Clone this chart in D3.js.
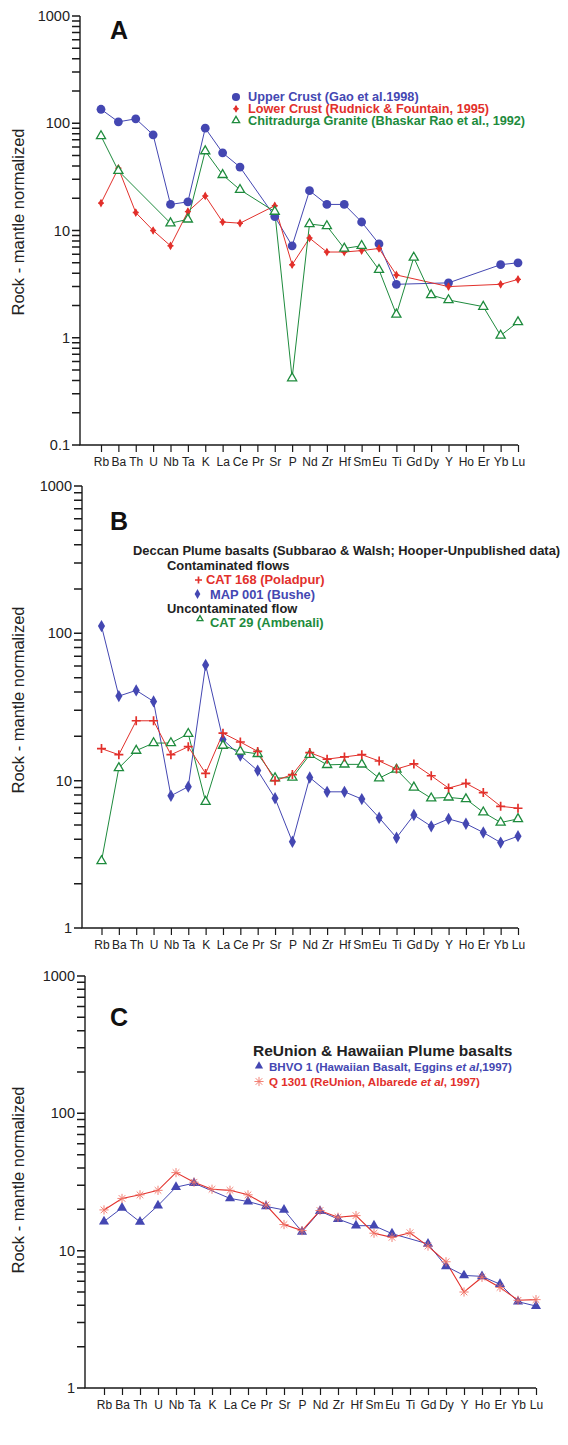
<!DOCTYPE html>
<html>
<head>
<meta charset="utf-8">
<script src="https://cdn.jsdelivr.net/npm/d3@7"></script>
<style>
  body { margin: 0; background: #fff; }
  svg { display: block; }
  text { font-family: "Liberation Sans", Arial, Helvetica, sans-serif; }
</style>
</head>
<body>
<svg id="chart" width="568" height="1445"></svg>
<script>
// Element order of the spider diagrams (mantle-normalized)
const elements = ["Rb","Ba","Th","U","Nb","Ta","K","La","Ce","Pr","Sr","P","Nd","Zr","Hf","Sm","Eu","Ti","Gd","Dy","Y","Ho","Er","Yb","Lu"];

// Panel A: crustal reference compositions
const upperCrust  = [135,103,110,78,17.5,18.5,90,53,39,null,13.5,7.2,23.5,17.5,17.5,12,7.5,3.15,null,null,3.25,null,null,4.8,5.0];
const lowerCrust  = [18,38,14.7,10,7.2,15,21,12,11.7,null,17,4.8,8.5,6.3,6.3,6.5,6.8,3.85,null,null,3.0,null,null,3.15,3.5];
const chitradurga = [76,36,null,null,11.7,12.7,55,33,24,null,15,0.42,11.5,11,6.8,7.2,4.3,1.65,5.6,2.5,2.25,null,1.95,1.05,1.4];

// Panel B: Deccan plume basalts
const cat168 = [16.5,15,25.5,25.5,15,17,11.2,21,18.3,15.8,10,11,15.5,14,14.5,15,13.6,12,13,10.8,8.9,9.6,8.3,6.7,6.5];
const map001 = [112,37.5,41,34.5,7.9,9.1,61,19,14.8,11.7,7.6,3.85,10.5,8.4,8.4,7.5,5.6,4.1,5.85,4.9,5.5,5.1,4.45,3.8,4.2];
const cat29  = [2.85,12.2,16,18,18,20.8,7.2,17.3,15.8,15.2,10.4,10.5,15,12.8,12.9,12.9,10.4,11.9,9,7.6,7.7,7.5,6.1,5.2,5.5];

// Panel C: ReUnion & Hawaiian plume basalts
const bhvo1 = [16.3,20.5,16.2,21.3,29,31,null,24,22.8,21,19.8,13.7,19.4,17,15.2,15.2,13.3,null,11.2,7.7,6.6,6.5,5.7,4.25,3.95];
const q1301 = [19.8,24,25.5,27.5,37,31.5,28,27.5,25.5,21.5,15.5,14,19.6,17.5,18,13.4,12.5,13.5,10.8,8.3,5.0,6.4,5.4,4.35,4.4];

const BLUE = "#4447b2", RED = "#e2302b", GREEN = "#1e8b3d", PINK = "#f07468";
const AXIS = "#1a1a1a";

const svg = d3.select("#chart");

// ---- marker glyphs -------------------------------------------------------
const markers = {
  circle(g, c, s) { g.append("circle").attr("r", 4.4 * s).attr("fill", c); },
  smallDiamond(g, c, s) {
    g.append("path").attr("d", d3.symbol(d3.symbolDiamond, 22 * s * s)()).attr("fill", c);
    g.append("path").attr("d", `M${-3 * s},0H${3 * s}M0,${-3 * s}V${3 * s}`).attr("stroke", c).attr("stroke-width", 1.4);
  },
  openTriangle(g, c, s) {
    g.append("path").attr("d", d3.symbol(d3.symbolTriangle, 36 * s * s)())
      .attr("fill", "#fff").attr("stroke", c).attr("stroke-width", 1.3);
  },
  diamond(g, c, s) { g.append("path").attr("d", d3.symbol(d3.symbolDiamond, 44 * s * s)()).attr("fill", c); },
  plus(g, c, s) {
    const r = 4.5 * s;
    g.append("path").attr("d", `M${-r},0H${r}M0,${-r}V${r}`).attr("stroke", c).attr("stroke-width", 1.7);
  },
  filledTriangle(g, c, s) { g.append("path").attr("d", d3.symbol(d3.symbolTriangle, 44 * s * s)()).attr("fill", c); },
  asterisk(g, c, s) {
    const r = 4.6 * s, q = 3.3 * s;
    g.append("path").attr("d", `M${-r},0H${r}M0,${-r}V${r}M${-q},${-q}L${q},${q}M${-q},${q}L${q},${-q}`)
      .attr("stroke", c).attr("stroke-width", 0.9).attr("fill", "none");
  }
};

function placeMarker(parent, kind, color, x, y, scale = 1) {
  const g = parent.append("g").attr("transform", `translate(${x},${y})`);
  markers[kind](g, color, scale);
  return g;
}

// ---- one spider-diagram panel --------------------------------------------
function drawPanel(o) {
  const g = svg.append("g");
  const x = d3.scalePoint().domain(elements).range([o.xFirst, o.xLast]);
  const y = d3.scaleLog().domain(o.domain).range([o.bottom, o.top]);

  // decade ticks (labelled) and minor ticks 2..9 in every decade
  const tickVals = [];
  const e0 = Math.round(Math.log10(o.domain[0])), e1 = Math.round(Math.log10(o.domain[1]));
  for (let e = e0; e < e1; e++) {
    for (let k = 1; k <= 9; k++) tickVals.push(+(k * Math.pow(10, e)).toPrecision(3));
  }
  tickVals.push(o.domain[1]);
  const isMajor = v => Math.abs(Math.log10(v) - Math.round(Math.log10(v))) < 1e-9;

  // y axis: labels from d3.axisLeft
  const yAxis = d3.axisLeft(y).tickValues(tickVals.filter(isMajor)).tickSize(0).tickPadding(10)
    .tickFormat(d3.format("~g"));
  const ya = g.append("g").attr("transform", `translate(${o.axisX},0)`).call(yAxis);
  ya.select(".domain").remove();
  ya.selectAll(".tick text").attr("font-size", 14.5).attr("fill", "#222");

  // tick comb on the y axis, one path built from the scale
  const comb = tickVals.map(v => `M${o.axisX - 8},${y(v).toFixed(2)}H${o.axisX}`).join("");
  g.append("path").attr("d", comb)
    .attr("fill", "none").attr("stroke", AXIS).attr("stroke-width", 1.5);

  const xAxis = d3.axisBottom(x).tickSize(7).tickSizeOuter(0).tickPadding(5.5);
  const xa = g.append("g").attr("transform", `translate(0,${o.bottom})`).call(xAxis);
  xa.select(".domain").remove();
  xa.selectAll(".tick line").attr("stroke", AXIS).attr("stroke-width", 1.2);
  xa.selectAll(".tick text").attr("font-size", 12).attr("fill", "#222");

  // axis frame lines (left and bottom)
  g.append("path")
    .attr("d", `M${o.axisX},${y(o.domain[1])}V${o.bottom}H${o.xLast}`)
    .attr("fill", "none").attr("stroke", AXIS).attr("stroke-width", 1.4);

  // y-axis title
  g.append("text")
    .attr("transform", `translate(${o.titleX},${o.titleY}) rotate(-90)`)
    .attr("text-anchor", "middle").attr("font-size", 16.5).attr("fill", "#222")
    .text("Rock - mantle normalized");

  // panel letter
  g.append("text").attr("x", o.letterX).attr("y", o.letterY)
    .attr("font-size", 25).attr("font-weight", "bold").attr("fill", "#111").text(o.letter);

  // series: lines join consecutive measured elements
  const line = d3.line().x(d => x(d.el)).y(d => y(d.v));
  const pointsOf = s => elements.map((el, i) => ({ el, v: s.values[i] })).filter(d => d.v != null);
  o.series.forEach(s => {
    g.append("path").datum(pointsOf(s)).attr("d", line)
      .attr("fill", "none").attr("stroke", s.color).attr("stroke-width", s.lw || 1);
  });
  o.series.forEach(s => {
    pointsOf(s).forEach(d => placeMarker(g, s.marker, s.markerColor || s.color, x(d.el), y(d.v)));
  });

  o.legend(g);
}

function legendText(g, xPos, yPos, size, color, parts) {
  const t = g.append("text").attr("x", xPos).attr("y", yPos)
    .attr("font-size", size).attr("font-weight", "bold").attr("fill", color);
  (Array.isArray(parts) ? parts : [parts]).forEach(p => {
    if (typeof p === "string") t.append("tspan").text(p);
    else t.append("tspan").attr("font-style", "italic").text(p.i);
  });
}

// ---- Panel A ---------------------------------------------------------------
drawPanel({
  top: 16, bottom: 445, domain: [0.1, 1000], axisX: 80, xFirst: 101, xLast: 518,
  titleX: 24, titleY: 222, letter: "A", letterX: 110, letterY: 39,
  series: [
    { values: upperCrust, color: BLUE, marker: "circle" },
    { values: lowerCrust, color: RED, marker: "smallDiamond" },
    { values: chitradurga, color: GREEN, marker: "openTriangle" }
  ],
  legend(g) {
    const rows = [
      ["circle", BLUE, "Upper Crust (Gao et al.1998)", 0.92],
      ["smallDiamond", RED, "Lower Crust (Rudnick & Fountain, 1995)", 0.9],
      ["openTriangle", GREEN, "Chitradurga Granite (Bhaskar Rao et al., 1992)", 0.8]
    ];
    rows.forEach((r, i) => {
      const cy = 97 + i * 11.8;
      placeMarker(g, r[0], r[1], 236, cy, r[3]);
      legendText(g, 248, cy + 4.3, 12.7, r[1], r[2]);
    });
  }
});

// ---- Panel B ---------------------------------------------------------------
drawPanel({
  top: 486, bottom: 928, domain: [1, 1000], axisX: 82, xFirst: 101.5, xLast: 518,
  titleX: 24, titleY: 700, letter: "B", letterX: 110, letterY: 530,
  series: [
    { values: map001, color: BLUE, marker: "diamond" },
    { values: cat29, color: GREEN, marker: "openTriangle" },
    { values: cat168, color: RED, marker: "plus" }
  ],
  legend(g) {
    legendText(g, 133, 555, 12.9, "#222", "Deccan Plume basalts (Subbarao & Walsh; Hooper-Unpublished data)");
    legendText(g, 167, 569.5, 12.9, "#222", "Contaminated flows");
    placeMarker(g, "plus", RED, 198.5, 580, 0.78);
    legendText(g, 206, 584.3, 12.9, RED, "CAT 168 (Poladpur)");
    placeMarker(g, "diamond", BLUE, 197.5, 594, 0.8);
    legendText(g, 210, 598.6, 12.9, BLUE, "MAP 001 (Bushe)");
    legendText(g, 167, 612.8, 12.9, "#222", "Uncontaminated flow");
    placeMarker(g, "openTriangle", GREEN, 200, 619, 0.65);
    legendText(g, 210, 627.4, 12.9, GREEN, "CAT 29 (Ambenali)");
  }
});

// ---- Panel C ---------------------------------------------------------------
drawPanel({
  top: 976, bottom: 1388, domain: [1, 1000], axisX: 85, xFirst: 104, xLast: 536,
  titleX: 24, titleY: 1180, letter: "C", letterX: 110, letterY: 1026,
  series: [
    { values: bhvo1, color: BLUE, marker: "filledTriangle" },
    { values: q1301, color: RED, marker: "asterisk", markerColor: PINK, lw: 1.1 }
  ],
  legend(g) {
    legendText(g, 253, 1056, 15.5, "#222", "ReUnion & Hawaiian Plume basalts");
    placeMarker(g, "filledTriangle", BLUE, 259, 1066, 0.82);
    legendText(g, 269, 1070.5, 11.6, BLUE, ["BHVO 1 (Hawaiian Basalt, Eggins ", { i: "et al" }, ",1997)"]);
    placeMarker(g, "asterisk", PINK, 259, 1081.5);
    legendText(g, 269, 1086, 11.6, RED, ["Q 1301 (ReUnion, Albarede ", { i: "et al" }, ", 1997)"]);
  }
});
</script>
</body>
</html>
